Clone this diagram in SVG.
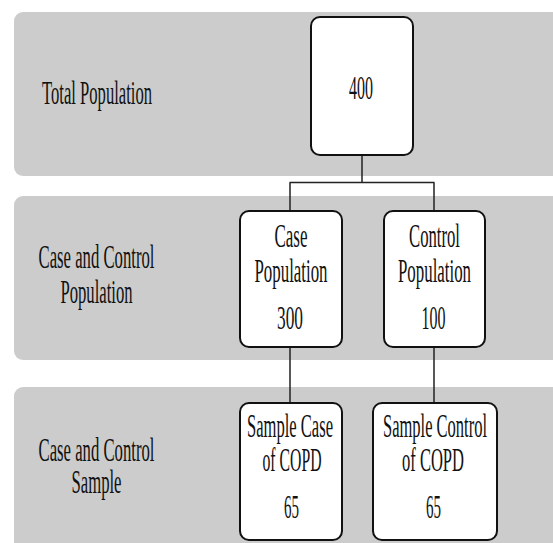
<svg xmlns="http://www.w3.org/2000/svg" width="553" height="543" viewBox="0 0 553 543">
<style>
.band{fill:#cccccc;}
.box{fill:#ffffff;stroke:#111111;stroke-width:2;}
.conn{fill:none;stroke:#222222;stroke-width:1.5;}
text{font-family:"Liberation Serif","DejaVu Serif","Times New Roman",serif;font-size:33px;fill:#111111;text-anchor:middle;}
</style>
<rect width="553" height="543" fill="#ffffff"/>
<g id="bands">
<rect class="band" x="14" y="12" width="560" height="164" rx="9"/>
<rect class="band" x="14" y="196" width="560" height="164" rx="9"/>
<rect class="band" x="14" y="387" width="560" height="180" rx="9"/>
</g>
<g id="labels" font-family="Liberation Serif, serif">
<text x="97" y="104" textLength="110" lengthAdjust="spacingAndGlyphs">Total Population</text>
<text x="96.5" y="268" textLength="116" lengthAdjust="spacingAndGlyphs">Case and Control</text>
<text x="96.5" y="303" textLength="72" lengthAdjust="spacingAndGlyphs">Population</text>
<text x="96.5" y="461" textLength="116" lengthAdjust="spacingAndGlyphs">Case and Control</text>
<text x="96.5" y="493" textLength="50" lengthAdjust="spacingAndGlyphs">Sample</text>
</g>
<g id="connectors">
<path class="conn" d="M362 155 V182.5 M289.5 182.5 H434.5 M290 182.5 V211 M434 182.5 V211"/>
<path class="conn" d="M290 347 V403 M434 347 V403"/>
</g>
<g id="total">
<rect class="box" x="311" y="17" width="102" height="138" rx="9"/>
<text x="361" y="99" textLength="24" lengthAdjust="spacingAndGlyphs">400</text>
</g>
<g id="case-pop">
<rect class="box" x="240" y="211" width="102" height="136" rx="9"/>
<text x="291" y="247" textLength="33" lengthAdjust="spacingAndGlyphs">Case</text>
<text x="291" y="282" textLength="73" lengthAdjust="spacingAndGlyphs">Population</text>
<text x="290" y="329" textLength="26" lengthAdjust="spacingAndGlyphs">300</text>
</g>
<g id="control-pop">
<rect class="box" x="384" y="211" width="101" height="136" rx="9"/>
<text x="434.5" y="247" textLength="51" lengthAdjust="spacingAndGlyphs">Control</text>
<text x="434.5" y="282" textLength="73" lengthAdjust="spacingAndGlyphs">Population</text>
<text x="433.5" y="329" textLength="24" lengthAdjust="spacingAndGlyphs">100</text>
</g>
<g id="sample-case">
<rect class="box" x="240" y="403" width="102" height="137" rx="9"/>
<text x="290" y="437" textLength="86" lengthAdjust="spacingAndGlyphs">Sample Case</text>
<text x="292" y="471" textLength="59" lengthAdjust="spacingAndGlyphs">of COPD</text>
<text x="291.5" y="518" textLength="15" lengthAdjust="spacingAndGlyphs">65</text>
</g>
<g id="sample-control">
<rect class="box" x="373" y="403" width="124" height="137" rx="9"/>
<text x="435" y="437" textLength="104" lengthAdjust="spacingAndGlyphs">Sample Control</text>
<text x="433" y="471" textLength="62" lengthAdjust="spacingAndGlyphs">of COPD</text>
<text x="433.5" y="518" textLength="15" lengthAdjust="spacingAndGlyphs">65</text>
</g>
</svg>
